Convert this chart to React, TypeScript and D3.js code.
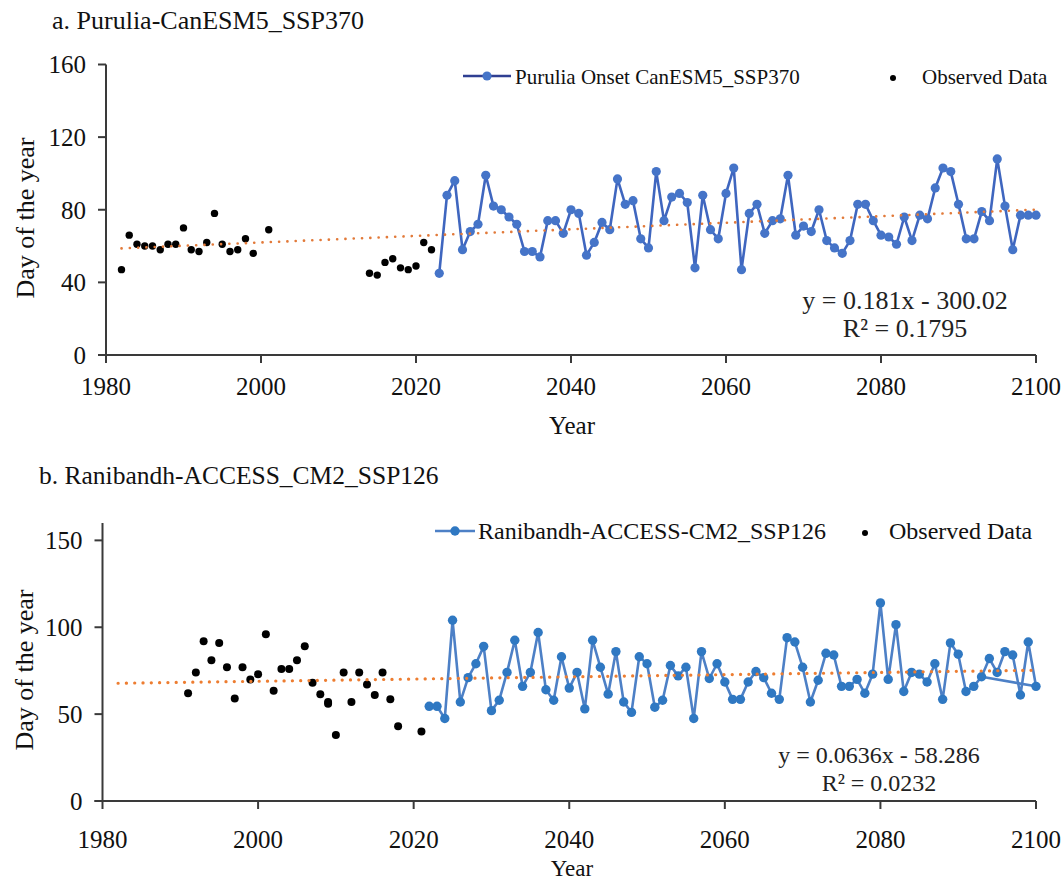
import React from "react";
import * as d3 from "d3";

// ---------- Panel a: Purulia CanESM5 SSP370 ----------
const obsAYears = [1982, 1983, 1984, 1985, 1986, 1987, 1988, 1989, 1990, 1991, 1992, 1993, 1994, 1995, 1996, 1997, 1998, 1999, 2001, 2014, 2015, 2016, 2017, 2018, 2019, 2020, 2021, 2022];
const obsAValues = [47, 66, 61, 60, 60, 58, 61, 61, 70, 58, 57, 62, 78, 61, 57, 58, 64, 56, 69, 45, 44, 51, 53, 48, 47, 49, 62, 58];

const projAYears = [
  2023, 2024, 2025, 2026, 2027, 2028, 2029, 2030, 2031, 2032, 2033, 2034, 2035, 2036, 2037, 2038, 2039, 2040, 2041, 2042,
  2043, 2044, 2045, 2046, 2047, 2048, 2049, 2050, 2051, 2052, 2053, 2054, 2055, 2056, 2057, 2058, 2059, 2060, 2061, 2062,
  2063, 2064, 2065, 2066, 2067, 2068, 2069, 2070, 2071, 2072, 2073, 2074, 2075, 2076, 2077, 2078, 2079, 2080, 2081, 2082,
  2083, 2084, 2085, 2086, 2087, 2088, 2089, 2090, 2091, 2092, 2093, 2094, 2095, 2096, 2097, 2098, 2099, 2100,
];
const projAValues = [
  45, 88, 96, 58, 68, 72, 99, 82, 80, 76, 72, 57, 57, 54, 74, 74, 67, 80, 78, 55,
  62, 73, 69, 97, 83, 85, 64, 59, 101, 74, 87, 89, 84, 48, 88, 69, 64, 89, 103, 47,
  78, 83, 67, 74, 75, 99, 66, 71, 68, 80, 63, 59, 56, 63, 83, 83, 74, 66, 65, 61,
  76, 63, 77, 75, 92, 103, 101, 83, 64, 64, 79, 74, 108, 82, 58, 77, 77, 77,
];
const trendA = { slope: 0.181, intercept: -300.02, from: 1982, to: 2100 };

// ---------- Panel b: Ranibandh ACCESS-CM2 SSP126 ----------
const obsBYears = [1991, 1992, 1993, 1994, 1995, 1996, 1997, 1998, 1999, 2000, 2001, 2002, 2003, 2004, 2005, 2006, 2007, 2008, 2009, 2009, 2010, 2011, 2012, 2013, 2014, 2015, 2016, 2017, 2018, 2021];
const obsBValues = [62, 74, 92, 81, 91, 77, 59, 77, 70, 73, 96, 63.5, 76, 76, 81, 89, 68, 61.5, 56, 57, 38, 74, 57, 74, 67, 61, 74, 58.5, 43, 40];

const projBYears = [
  2022, 2023, 2024, 2025, 2026, 2027, 2028, 2029, 2030, 2031, 2032, 2033, 2034, 2035, 2036, 2037, 2038, 2039, 2040, 2041,
  2042, 2043, 2044, 2045, 2046, 2047, 2048, 2049, 2050, 2051, 2052, 2053, 2054, 2055, 2056, 2057, 2058, 2059, 2060, 2061,
  2062, 2063, 2064, 2065, 2066, 2067, 2068, 2069, 2070, 2071, 2072, 2073, 2074, 2075, 2076, 2077, 2078, 2079, 2080, 2081,
  2082, 2083, 2084, 2085, 2086, 2087, 2088, 2089, 2090, 2091, 2092, 2093, 2094, 2095, 2096, 2097, 2098, 2099, 2100,
];
const projBValues = [
  54.5, 54.5, 47.5, 104, 57, 71, 79, 89, 52, 58, 74, 92.5, 66, 74, 97, 64, 58, 83, 65, 74,
  53, 92.5, 77, 61.5, 86, 57, 51, 83, 79, 54, 58, 78, 72, 77, 47.5, 86, 70.5, 79, 68.5, 58.5,
  58.5, 68.5, 74.5, 71, 62, 58.5, 94, 91.5, 77, 57, 69.5, 85, 84, 66, 66, 70, 62, 73, 114, 70,
  101.5, 63, 74, 73, 68.5, 79, 58.5, 91, 84.5, 63, 66, 71.5, 82, 74, 86, 84, 61, 91.5, 66,
];
// extra connector drawn by the original spreadsheet between these two years
const projBExtraSegment = [2093, 2100];
const trendB = { slope: 0.0636, intercept: -58.286, from: 1982, to: 2100 };

const xTickValues = [1980, 2000, 2020, 2040, 2060, 2080, 2100];
const yTicksA = [0, 40, 80, 120, 160];
const yTicksB = [0, 50, 100, 150];

const FONT = "'Liberation Serif', 'Times New Roman', Times, serif";
const AXIS = "#3a3a3a";
const ORANGE = "#ED7D31";

type PanelProps = {
  title: string;
  titleX: number;
  titleY: number;
  titleSize: number;
  xRange: [number, number];
  yRange: [number, number];
  yTicks: number[];
  xTickBaseline: number;
  xLabelY: number;
  xLabelSize: number;
  yLabelX: number;
  yLabelY: number;
  obsYears: number[];
  obsValues: number[];
  obsR: number;
  projYears: number[];
  projValues: number[];
  extraSeg?: number[];
  lineColor: string;
  markerColor: string;
  legendLineColor: string;
  markerR: number;
  trend: { slope: number; intercept: number; from: number; to: number };
  trendWidth: number;
  trendColor: string;
  legendLabel: string;
  legend: { lx0: number; lx1: number; ly: number; textX: number; textY: number; size: number; dotX: number; obsTextX: number };
  eqText: string;
  r2Text: string;
  eq: { cx: number; y1: number; y2: number; size: number };
};

function Panel(p: PanelProps) {
  const x = d3.scaleLinear().domain([1980, 2100]).range(p.xRange);
  const y = d3.scaleLinear().domain([0, 160]).range(p.yRange);
  const axisX = p.xRange[0];
  const axisY = p.yRange[0];

  const projPts: [number, number][] = p.projYears.map((yr, i) => [yr, p.projValues[i]]);
  const line = d3
    .line<[number, number]>()
    .x((d) => x(d[0]))
    .y((d) => y(d[1]));

  let extraPath: string | null = null;
  if (p.extraSeg) {
    const segPts = p.extraSeg.map((yr) => {
      const i = p.projYears.indexOf(yr);
      return [yr, p.projValues[i]] as [number, number];
    });
    extraPath = line(segPts);
  }

  const trendPts: [number, number][] = [p.trend.from, p.trend.to].map((yr) => [yr, p.trend.slope * yr + p.trend.intercept]);

  return (
    <g>
      <text x={p.titleX} y={p.titleY} fontSize={p.titleSize} fontFamily={FONT} fill="#111">
        {p.title}
      </text>

      {/* axes */}
      <line x1={axisX} x2={axisX} y1={y(160)} y2={axisY} stroke={AXIS} strokeWidth={2} />
      <line x1={axisX - 8} x2={p.xRange[1]} y1={axisY} y2={axisY} stroke={AXIS} strokeWidth={2} />
      {p.yTicks.map((t) => (
        <g key={"yt" + t}>
          <line x1={axisX - 8} x2={axisX} y1={y(t)} y2={y(t)} stroke={AXIS} strokeWidth={2} />
          <text
            x={axisX - 20}
            y={y(t)}
            dy="0.35em"
            textAnchor="end"
            fontSize={25}
            fontFamily={FONT}
            fill="#111"
          >
            {t}
          </text>
        </g>
      ))}
      {xTickValues.map((t) => (
        <g key={"xt" + t}>
          <line x1={x(t)} x2={x(t)} y1={axisY} y2={axisY + 8} stroke={AXIS} strokeWidth={2} />
          <text x={x(t)} y={p.xTickBaseline} textAnchor="middle" fontSize={25} fontFamily={FONT} fill="#111">
            {t}
          </text>
        </g>
      ))}
      <text x={572} y={p.xLabelY} textAnchor="middle" fontSize={p.xLabelSize} fontFamily={FONT} fill="#111">
        Year
      </text>
      <text
        transform={`translate(${p.yLabelX},${p.yLabelY}) rotate(-90)`}
        textAnchor="middle"
        fontSize={26}
        fontFamily={FONT}
        fill="#111"
      >
        Day of the year
      </text>

      {/* observed */}
      {p.obsYears.map((yr, i) => (
        <circle key={"o" + i} cx={x(yr)} cy={y(p.obsValues[i])} r={p.obsR} fill="#000" />
      ))}

      {/* projection */}
      <path d={line(projPts) || ""} fill="none" stroke={p.lineColor} strokeWidth={2.6} strokeLinejoin="round" />
      {extraPath && <path d={extraPath} fill="none" stroke={p.lineColor} strokeWidth={2.6} />}
      {projPts.map((d, i) => (
        <circle key={"p" + i} cx={x(d[0])} cy={y(d[1])} r={p.markerR} fill={p.markerColor} />
      ))}

      {/* trend */}
      <path
        d={line(trendPts) || ""}
        fill="none"
        stroke={p.trendColor}
        strokeWidth={p.trendWidth}
        strokeLinecap="round"
        strokeDasharray="0.1 8.2"
      />

      {/* legend */}
      <line x1={p.legend.lx0} x2={p.legend.lx1} y1={p.legend.ly} y2={p.legend.ly} stroke={p.legendLineColor} strokeWidth={2.6} />
      <circle cx={(p.legend.lx0 + p.legend.lx1) / 2} cy={p.legend.ly} r={p.markerR} fill={p.markerColor} />
      <text x={p.legend.textX} y={p.legend.textY} fontSize={p.legend.size} fontFamily={FONT} fill="#111">
        {p.legendLabel}
      </text>
      <circle cx={p.legend.dotX} cy={p.legend.ly + 2} r={3} fill="#000" />
      <text x={p.legend.obsTextX} y={p.legend.textY} fontSize={p.legend.size} fontFamily={FONT} fill="#111">
        Observed Data
      </text>

      {/* equation */}
      <text x={p.eq.cx} y={p.eq.y1} textAnchor="middle" fontSize={p.eq.size} fontFamily={FONT} fill="#222" xmlSpace="preserve">
        {p.eqText}
      </text>
      <text x={p.eq.cx} y={p.eq.y2} textAnchor="middle" fontSize={p.eq.size} fontFamily={FONT} fill="#222">
        {p.r2Text}
      </text>
    </g>
  );
}

export default function App() {
  return (
    <svg
      width={1063}
      height={881}
      viewBox="0 0 1063 881"
      style={{ position: "absolute", left: 0, top: 0, background: "#fff" }}
    >
      <rect width={1063} height={881} fill="#fff" />
      <Panel
        title="a. Purulia-CanESM5_SSP370"
        titleX={52}
        titleY={29}
        titleSize={26}
        xRange={[106, 1036]}
        yRange={[355, 64.5]}
        yTicks={yTicksA}
        xTickBaseline={395}
        xLabelY={434}
        xLabelSize={25}
        yLabelX={34}
        yLabelY={218}
        obsYears={obsAYears}
        obsValues={obsAValues}
        obsR={3.7}
        projYears={projAYears}
        projValues={projAValues}
        lineColor="#3F66BF"
        markerColor="#4574C8"
        legendLineColor="#2F3F92"
        markerR={4.6}
        trend={trendA}
        trendWidth={2.6}
        trendColor="#E27A3A"
        legendLabel="Purulia Onset CanESM5_SSP370"
        legend={{ lx0: 463, lx1: 511, ly: 76, textX: 515, textY: 84, size: 21, dotX: 893, obsTextX: 922 }}
        eqText="y = 0.181x - 300.02"
        r2Text="R² = 0.1795"
        eq={{ cx: 905, y1: 309, y2: 337, size: 26 }}
      />
      <Panel
        title="b. Ranibandh-ACCESS_CM2_SSP126"
        titleX={39}
        titleY={484}
        titleSize={25.5}
        xRange={[102.5, 1036]}
        yRange={[801, 523]}
        yTicks={yTicksB}
        xTickBaseline={848}
        xLabelY={876}
        xLabelSize={23}
        yLabelX={33}
        yLabelY={670}
        obsYears={obsBYears}
        obsValues={obsBValues}
        obsR={4}
        projYears={projBYears}
        projValues={projBValues}
        extraSeg={projBExtraSegment}
        lineColor="#4D80C6"
        markerColor="#2F78C2"
        legendLineColor="#4D80C6"
        markerR={4.7}
        trend={trendB}
        trendWidth={3.2}
        trendColor={ORANGE}
        legendLabel="Ranibandh-ACCESS-CM2_SSP126"
        legend={{ lx0: 435, lx1: 475, ly: 531, textX: 478, textY: 539, size: 24, dotX: 865, obsTextX: 889 }}
        eqText="y = 0.0636x - 58.286"
        r2Text="R² = 0.0232"
        eq={{ cx: 879, y1: 763, y2: 791, size: 24 }}
      />
    </svg>
  );
}
